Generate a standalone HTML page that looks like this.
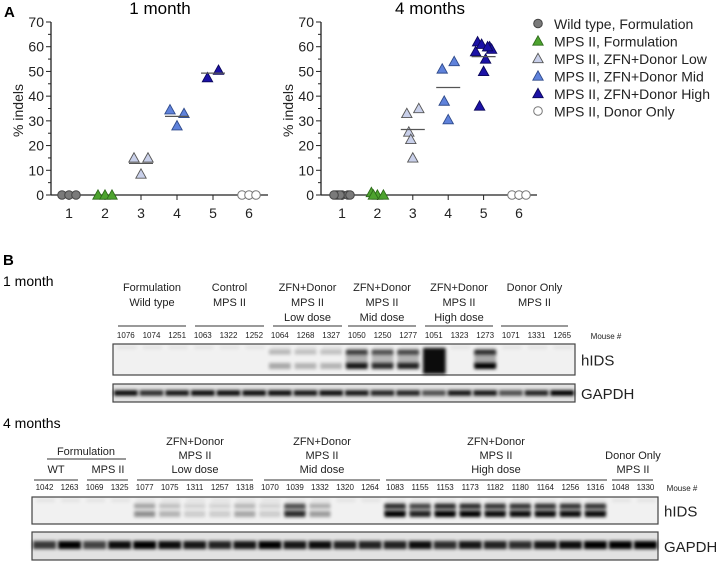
<!DOCTYPE html>
<html><head><meta charset="utf-8">
<style>
html,body{margin:0;padding:0;background:#fff;}
svg{display:block;font-family:"Liberation Sans",sans-serif;}
</style></head>
<body>
<svg id="fig" width="716" height="562" viewBox="0 0 716 562" xmlns="http://www.w3.org/2000/svg">
<defs>
  <filter id="blur1" x="-20%" y="-80%" width="140%" height="260%"><feGaussianBlur stdDeviation="1.6"/></filter>
</defs>
<g id="panelA">
  <text x="4" y="17" font-size="15" font-weight="bold">A</text>
  <text x="160" y="14" font-size="17" text-anchor="middle">1 month</text>
  <text x="430" y="14" font-size="17" text-anchor="middle">4 months</text>
  <g id="chart1"></g>
  <g id="chart2"></g>
  <g id="legend"></g>
</g>
<g id="panelB">
  <text x="3" y="265" font-size="15" font-weight="bold">B</text>
  <text x="3" y="286" font-size="14">1 month</text>
  <text x="3" y="428" font-size="14">4 months</text>
  <g id="blot1"></g>
  <g id="blot2"></g>
</g>
</svg>
<script>
// ---------- Chart data ----------
const categories = ["1","2","3","4","5","6"];
const yTicks = [0,10,20,30,40,50,60,70];
const seriesNames = ["Wild type, Formulation","MPS II, Formulation","MPS II, ZFN+Donor Low","MPS II, ZFN+Donor Mid","MPS II, ZFN+Donor High","MPS II, Donor Only"];
const month1Values = [[0,0,0],[0,0,0],[15,8.5,15],[34.5,28,33],[47.5,50.5],[0,0,0]];
const month4Values = [[0,0,0,0,0,0,0],[1,0,0,0],[33,15,35,25.5,22.5],[51,30.5,54,38],[62,50,60,36,61,59,58,55,60],[0,0,0]];
const month1Means = [null,null,12.8,31.8,49.3,null];
const month4Means = [null,null,26.5,43.5,56,null];

const seriesFill = ["#7a7a7a","#4da32f","#c9d0ea","#5f82db","#1c12a6","#ffffff"];
const seriesStroke = ["#444","#2d6a1a","#555","#2f4a8a","#0b075a","#777"];
const seriesShape = ["circle","tri","tri","tri","tri","circle"];

const NS="http://www.w3.org/2000/svg";
function mk(tag, attrs, parent){const e=document.createElementNS(NS,tag);for(const k in attrs)e.setAttribute(k,attrs[k]);parent.appendChild(e);return e;}

function marker(parent, shape, cx, cy, fill, stroke){
  if(shape==="circle") return mk("circle",{cx:cx,cy:cy,r:4.3,fill:fill,stroke:stroke,"stroke-width":1},parent);
  const s=5.2;
  return mk("polygon",{points:`${cx},${cy-s} ${cx+s},${cy+s*0.8} ${cx-s},${cy+s*0.8}`,fill:fill,stroke:stroke,"stroke-width":0.9},parent);
}

function drawChart(g, axisX, firstCatX, catStep, axisEnd, values, means){
  const y0=195, yTop=22;
  const yScale = v => y0 - v*(y0-yTop)/70;
  const xScale = i => firstCatX + i*catStep;
  const ya=mk("line",{x1:axisX,y1:yTop,x2:axisX,y2:y0,stroke:"#222","stroke-width":1.3},g);
  
  
  for(let v=0; v<=70; v+=5){
    mk("line",{x1:axisX-(v%10===0?5:3),y1:yScale(v),x2:axisX,y2:yScale(v),stroke:"#222","stroke-width":1},g);
  }
  yTicks.forEach(t=>{
    const tx=mk("text",{x:axisX-7,y:yScale(t)+5,"font-size":14,"text-anchor":"end",fill:"#222"},g);
    tx.textContent=t;
    
    
  });
  const yt=mk("text",{x:0,y:0,"font-size":14,"text-anchor":"middle",transform:`translate(${axisX-28},${(y0+yTop)/2+2}) rotate(-90)`,fill:"#222"},g);
  yt.textContent="% indels";
  
  
  const xa=mk("line",{x1:axisX,y1:y0,x2:axisEnd,y2:y0,stroke:"#222","stroke-width":1.3},g);
  
  
  categories.forEach((c,i)=>{
    mk("line",{x1:xScale(i),y1:y0,x2:xScale(i),y2:y0+5,stroke:"#222","stroke-width":1},g);
    const tx=mk("text",{x:xScale(i),y:y0+23,"font-size":14,"text-anchor":"middle",fill:"#222"},g);
    tx.textContent=c;
    
    
  });
  values.forEach((arr,gi)=>{
    const n=arr.length;
    arr.forEach((v,i)=>{
      let off;
      if(n<=3){ off=(i-(n-1)/2)*(n===2?11:7); }
      else { off=((i%3)-1)*6 + (i>=3? (i%2?2:-2):0); }
      const m=marker(g, seriesShape[gi], xScale(gi)+off, yScale(v), seriesFill[gi], seriesStroke[gi]);
      
      
    });
  });
  means.forEach((m,gi)=>{
    if(m===null) return;
    const l=mk("line",{x1:xScale(gi)-12,y1:yScale(m),x2:xScale(gi)+12,y2:yScale(m),stroke:"#555","stroke-width":1.3},g);
    
    
  });
}
drawChart(document.getElementById("chart1"), 51, 69, 36, 268, month1Values, month1Means);
drawChart(document.getElementById("chart2"), 321, 342, 35.4, 537, month4Values, month4Means);

const lg=document.getElementById("legend");
seriesNames.forEach((s,i)=>{
  const y=24+i*17.5;
  const m=marker(lg, seriesShape[i], 538, y-0.5, seriesFill[i], seriesStroke[i]);
  
  
  const t=mk("text",{x:554,y:y+5,"font-size":14,fill:"#222"},lg);
  t.textContent=s;
  
  
});

// ---------- Blot data ----------
const blot1Mice = ["1076","1074","1251","1063","1322","1252","1064","1268","1327","1050","1250","1277","1051","1323","1273","1071","1331","1265"];
const blot1Hids = [0,0,0,0,0,0,0.3,0.25,0.25,0.9,0.8,0.85,1.3,0,1,0,0,0];
const blot1Gapdh = [0.95,0.8,0.9,0.95,0.95,0.95,0.95,0.9,0.95,0.9,0.85,0.85,0.65,0.9,0.9,0.65,0.85,1];
const blot2Mice = ["1042","1263","1069","1325","1077","1075","1311","1257","1318","1070","1039","1332","1320","1264","1083","1155","1153","1173","1182","1180","1164","1256","1316","1048","1330"];
const blot2Hids = [0,0,0,0,0.4,0.25,0.15,0.15,0.3,0.15,0.8,0.35,0,0,1,0.85,1,1,0.95,0.95,0.95,0.95,0.95,0,0];
const blot2Gapdh = [0.75,1,0.7,0.95,1,0.95,0.9,0.85,0.9,1,0.9,0.95,0.85,0.85,0.85,0.95,0.8,0.9,0.85,0.8,0.9,0.95,1,1,1];

function txt(g,x,y,s,size,anchor,name){
  const t=mk("text",{x:x,y:y,"font-size":size,"text-anchor":anchor||"middle",fill:"#222"},g);
  t.textContent=s;
  
  
  return t;
}
function hline(g,x1,x2,y,name){
  const l=mk("line",{x1:x1,y1:y,x2:x2,y2:y,stroke:"#333","stroke-width":1},g);
  
  
}

function drawBlot(g, opts, mice, hids, gapdh){
  const {x0,x1,numY,hTop,hBot,gTop,gBot,numSize,b1,b2,gy,gh}=opts;
  const lw=(x1-x0)/mice.length;
  mice.forEach((m,i)=>txt(g,x0+lw*(i+0.5),numY,m,numSize,"middle","mouse-number"));
  const hb=mk("rect",{x:x0,y:hTop,width:x1-x0,height:hBot-hTop,fill:"#f1f1f1",stroke:"#444","stroke-width":1.2},g);
  
  
  const gb=mk("rect",{x:x0,y:gTop,width:x1-x0,height:gBot-gTop,fill:"#e2e2e2",stroke:"#444","stroke-width":1.2},g);
  
  
  hids.forEach((v,i)=>{
    const cx=x0+lw*i+2;
    mk("rect",{x:cx+2,y:hTop+2,width:lw-6,height:3,fill:"#000",opacity:0.06,filter:"url(#blur1)"},g);
    if(v<=0) return;
    if(v>1.1){
      const r=mk("rect",{x:cx,y:b1-4,width:lw-3,height:b2-b1+12,fill:"#000",opacity:0.95,filter:"url(#blur1)"},g);
      
      
      return;
    }
    const a=mk("rect",{x:cx,y:b1-2.5,width:lw-4,height:5,fill:"#000",opacity:Math.min(1,v*0.8),filter:"url(#blur1)"},g);
    
    
    const b=mk("rect",{x:cx,y:b2-3,width:lw-4,height:6,fill:"#000",opacity:Math.min(1,v),filter:"url(#blur1)"},g);
    
    
    if(v>0.5) mk("rect",{x:cx,y:b1,width:lw-4,height:b2-b1,fill:"#000",opacity:v*0.3,filter:"url(#blur1)"},g);
  });
  gapdh.forEach((v,i)=>{
    const cx=x0+lw*i+1;
    const r=mk("rect",{x:cx,y:gy-gh/2,width:lw-2,height:gh,fill:"#000",opacity:v,filter:"url(#blur1)"},g);
    
    
  });
  txt(g,x1+6,(hTop+hBot)/2+6,"hIDS",15,"start","hids-label");
  txt(g,x1+6,(gTop+gBot)/2+6,"GAPDH",15,"start","gapdh-label");
}

const g1=document.getElementById("blot1");
const h1=[["Formulation","Wild type",""],["Control","MPS II",""],["ZFN+Donor","MPS II","Low dose"],["ZFN+Donor","MPS II","Mid dose"],["ZFN+Donor","MPS II","High dose"],["Donor Only","MPS II",""]];
const l1=[[118,186],[195,264],[273,342],[348,416],[425,493],[501,568]];
h1.forEach((h,i)=>{
  const cx=(l1[i][0]+l1[i][1])/2;
  h.forEach((s,j)=>{ if(s) txt(g1,cx,291+j*15,s,11,"middle","group-header"); });
  hline(g1,l1[i][0],l1[i][1],326,"group-underline");
});
drawBlot(g1,{x0:113,x1:575,numY:338,hTop:344,hBot:375,gTop:384,gBot:402,numSize:8,b1:352,b2:366,gy:393,gh:5.5},blot1Mice,blot1Hids,blot1Gapdh);
txt(g1,606,339,"Mouse #",8,"middle","mouse-number-label");

const g2=document.getElementById("blot2");
txt(g2,86,455,"Formulation",11,"middle","group-header");
hline(g2,47,126,459,"group-underline");
txt(g2,56,473,"WT",11,"middle","group-header");
txt(g2,108,473,"MPS II",11,"middle","group-header");
const h2=[["ZFN+Donor","MPS II","Low dose",195],["ZFN+Donor","MPS II","Mid dose",322],["ZFN+Donor","MPS II","High dose",496]];
h2.forEach(h=>{ for(let j=0;j<3;j++) txt(g2,h[3],445+j*14,h[j],11,"middle","group-header"); });
txt(g2,633,459,"Donor Only",11,"middle","group-header");
txt(g2,633,473,"MPS II",11,"middle","group-header");
[[34,78],[87,128],[137,253],[264,380],[386,607],[612,653]].forEach(l=>hline(g2,l[0],l[1],480,"group-underline"));
drawBlot(g2,{x0:32,x1:658,numY:490,hTop:497,hBot:524,gTop:532,gBot:560,numSize:8,b1:506,b2:514,gy:545,gh:8},blot2Mice,blot2Hids,blot2Gapdh);
txt(g2,682,491,"Mouse #",8,"middle","mouse-number-label");
</script>
</body></html>
